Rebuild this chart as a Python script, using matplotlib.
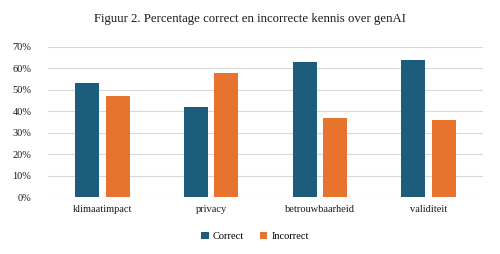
import matplotlib.pyplot as plt
import numpy as np
from matplotlib.ticker import PercentFormatter

categories = ["klimaatimpact", "privacy", "betrouwbaarheid", "validiteit"]
correct = [53, 42, 63, 64]
incorrect = [47, 58, 37, 36]

BLUE = "#1d5d7c"
ORANGE = "#e8732f"

plt.rcParams["font.family"] = ["Liberation Serif", "DejaVu Serif"]

fig = plt.figure(figsize=(5.0, 2.54), dpi=100)
ax = fig.add_axes([0.096, 0.224, 0.87, 0.591])

x = np.arange(len(categories))
w = 0.22
ax.bar(x - 0.14, correct, w, color=BLUE, label="Correct", zorder=3)
ax.bar(x + 0.14, incorrect, w, color=ORANGE, label="Incorrect", zorder=3)

ax.set_xlim(-0.5, len(categories) - 0.5)
ax.set_ylim(0, 70)
ax.set_yticks(range(0, 71, 10))
ax.yaxis.set_major_formatter(PercentFormatter(decimals=0))
ax.set_xticks(x)
ax.set_xticklabels(categories)
ax.grid(axis="y", color="#d9d9d9", lw=0.8, zorder=0)
for s in ax.spines.values():
    s.set_visible(False)
ax.tick_params(length=0, labelsize=7.5, colors="#1a1a1a")
ax.tick_params(axis="y", pad=12)
ax.tick_params(axis="x", pad=6)

fig.text(0.5, 0.925, "Figuur 2. Percentage correct en incorrecte kennis over genAI",
         ha="center", va="center", fontsize=9.2, color="#1a1a1a")
fig.legend(loc="center", bbox_to_anchor=(0.51, 0.07), ncol=2, frameon=False,
           fontsize=7.5, handlelength=0.7, handleheight=0.7, columnspacing=1.5,
           handletextpad=0.4)

fig.savefig("out.png", dpi=100)
